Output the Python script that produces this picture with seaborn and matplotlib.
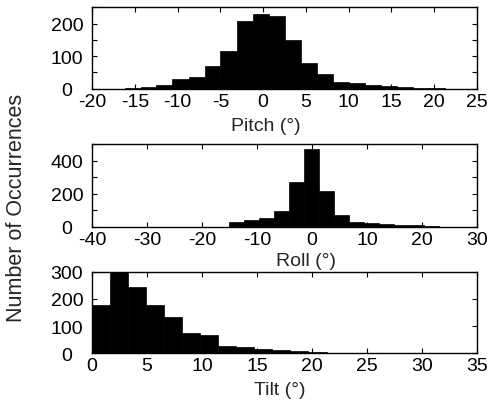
import numpy as np
import matplotlib
matplotlib.use("Agg")
import matplotlib.pyplot as plt
import seaborn as sns

# ------------------------------------------
# Histogram data (bin edges and counts)
# ------------------------------------------

pitch_edges = [-16.2, -14.3, -12.5, -10.6, -8.7, -6.8, -5.0, -3.1, -1.2, 0.7,
               2.5, 4.4, 6.3, 8.2, 10.0, 11.9, 13.8, 15.7, 17.5, 19.4, 21.3]
pitch_counts = [2, 5, 11, 31, 35, 69, 116, 209, 230, 225,
                149, 78, 44, 19, 16, 10, 7, 6, 3, 2]

roll_edges = [-15.1, -12.4, -9.6, -6.9, -4.2, -1.5, 1.3, 4.0,
              6.7, 9.5, 12.2, 14.9, 17.7, 20.4, 23.1]
roll_counts = [26, 38, 52, 97, 272, 470, 214, 68, 30, 24, 16, 12, 8, 5]

tilt_edges = [0.0, 1.64, 3.28, 4.92, 6.56, 8.2, 9.84, 11.48,
              13.12, 14.76, 16.4, 18.04, 19.68, 21.32, 22.96]
tilt_counts = [179, 310, 245, 179, 132, 75, 67, 26, 23, 16, 13, 9, 5, 2]

pitch_xticks = [-20, -15, -10, -5, 0, 5, 10, 15, 20, 25]
roll_xticks = [-40, -30, -20, -10, 0, 10, 20, 30]
tilt_xticks = [0, 5, 10, 15, 20, 25, 30, 35]

pitch_yticks = [0, 50, 100, 150, 200, 250]
pitch_ylabels = ['0', '', '100', '', '200', '']
roll_yticks = [0, 100, 200, 300, 400, 500]
roll_ylabels = ['0', '', '200', '', '400', '']
tilt_yticks = [0, 100, 200, 300]
tilt_ylabels = ['0', '100', '200', '300']

# ------------------------------------------
# Style
# ------------------------------------------

sns.set_style("ticks")
plt.rcParams['font.family'] = ['Liberation Sans', 'DejaVu Sans']
plt.rcParams['axes.unicode_minus'] = False

fig = plt.figure(figsize=(5, 4.02), dpi=100)

panels = [
    # (edges, counts, xlim, xticks, ylim, yticks, ylabels, xlabel, axes rect, label pos)
    (pitch_edges, pitch_counts, (-20, 25), pitch_xticks, (0, 250),
     pitch_yticks, pitch_ylabels, 'Pitch (°)', [0.184, 0.777, 0.77, 0.202], (0.452, -0.35)),
    (roll_edges, roll_counts, (-40, 30), roll_xticks, (0, 500),
     roll_yticks, roll_ylabels, 'Roll (°)', [0.184, 0.4336, 0.77, 0.2057], (0.556, -0.30)),
    (tilt_edges, tilt_counts, (0, 35), tilt_xticks, (0, 300),
     tilt_yticks, tilt_ylabels, 'Tilt (°)', [0.184, 0.1187, 0.77, 0.203], (0.488, -0.335)),
]

for edges, counts, xlim, xticks, ylim, yticks, ylabels, xlabel, rect, lpos in panels:
    ax = fig.add_axes(rect)
    sns.histplot(
        x=edges[:-1],
        weights=counts,
        bins=edges,
        color='black',
        edgecolor='black',
        linewidth=0.5,
        alpha=1,
        ax=ax
    )
    ax.set_xlim(*xlim)
    ax.set_ylim(*ylim)
    ax.set_xticks(xticks)
    ax.set_yticks(yticks)
    ax.set_yticklabels(ylabels)
    ax.set_ylabel('')
    ax.set_xlabel(xlabel, fontsize=14, va='top')
    ax.xaxis.set_label_coords(*lpos)
    ax.tick_params(direction='in', top=True, right=True, length=3.5,
                   width=0.8, labelsize=14, colors='black')
    ax.tick_params(axis='x', pad=3)
    # y tick labels are centred on a common column, as in the original
    ax.tick_params(axis='y', pad=18)
    for lbl in ax.get_yticklabels():
        lbl.set_horizontalalignment('center')
    for sp in ax.spines.values():
        sp.set_visible(True)
        sp.set_linewidth(1.0)
        sp.set_color('black')

fig.text(0.033, 1 - 208 / 402, 'Number of Occurrences', rotation=90,
         ha='center', va='center', fontsize=15.5)

plt.savefig("out.png", dpi=100)
